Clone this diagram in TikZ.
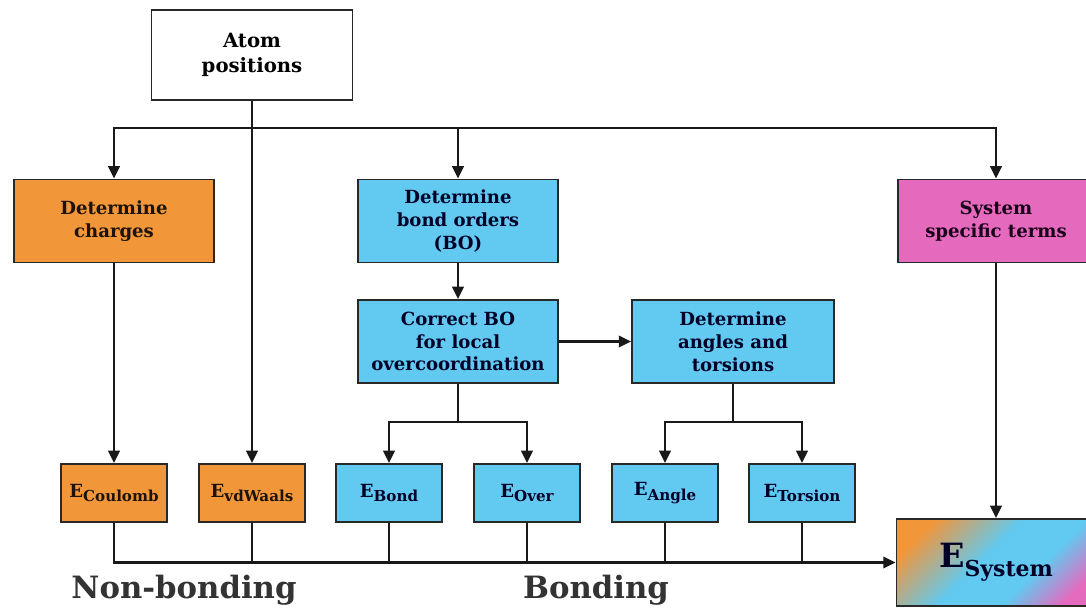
\documentclass[tikz,border=0pt]{standalone}
\usepackage{fontspec}
\setmainfont{DejaVu Serif}
\usepackage{tikz}
\usetikzlibrary{arrows.meta}

\definecolor{chargeorange}{RGB}{242,150,58}
\definecolor{bondblue}{RGB}{98,201,240}
\definecolor{termpink}{RGB}{229,106,190}
\definecolor{boxline}{RGB}{40,40,40}

\pgfdeclarehorizontalshading{esystem}{100bp}{color(0bp)=(chargeorange); color(24bp)=(chargeorange); color(46bp)=(bondblue); color(62bp)=(bondblue); color(77bp)=(termpink); color(100bp)=(termpink)}

\newcommand{\Eterm}[1]{E\raisebox{-0.5ex}{\fontsize{8.6}{10}\selectfont #1}}

\begin{document}
\begin{tikzpicture}[x=0.02cm, y=-0.02cm,
    >={Triangle[length=7pt, width=6.5pt]},
    box/.style={draw=boxline, line width=1.1pt, align=center, inner sep=2pt,
      font=\bfseries\fontsize{10.3}{13}\selectfont},
    bigbox/.style={box, minimum width=4cm, minimum height=1.66cm},
    ebox/.style={box, minimum width=2.12cm, minimum height=1.16cm},
    flow/.style={->, line width=1.5pt, draw=black!90},
    link/.style={line width=1.5pt, draw=black!90}]

    \useasboundingbox (0,0) rectangle (1086,608);
    \clip (0,0) rectangle (1086,608);

    % input and the three branches
    \node[bigbox, fill=white, minimum width=4.02cm, minimum height=1.8cm,
      font=\bfseries\fontsize{11.2}{14}\selectfont] (atoms) at (252,55) {Atom\\positions};
    \node[bigbox, fill=chargeorange, text=black!85!brown] (charges) at (114,221) {Determine\\charges};
    \node[bigbox, fill=bondblue, text=black!85!blue] (bondorder) at (458,221) {Determine\\bond orders\\(BO)};
    \node[bigbox, fill=termpink, text=black!80!violet, minimum width=3.92cm] (specific) at (996,221) {System\\specific terms};

    \node[bigbox, fill=bondblue, text=black!85!blue] (correctbo) at (458,341.5) {Correct BO\\for local\\overcoordination};
    \node[bigbox, fill=bondblue, text=black!85!blue, minimum width=4.04cm] (angles) at (733,341.5) {Determine\\angles and\\torsions};

    % energy terms
    \node[ebox, fill=chargeorange, text=black!85!brown] (ecoul) at (114,493) {\Eterm{Coulomb}};
    \node[ebox, fill=chargeorange, text=black!85!brown] (evdw) at (252,493) {\Eterm{vdWaals}};
    \node[ebox, fill=bondblue, text=black!85!blue] (ebond) at (389,493) {\Eterm{Bond}};
    \node[ebox, fill=bondblue, text=black!85!blue] (eover) at (527,493) {\Eterm{Over}};
    \node[ebox, fill=bondblue, text=black!85!blue] (eangle) at (665,493) {\Eterm{Angle}};
    \node[ebox, fill=bondblue, text=black!85!blue] (etors) at (802,493) {\Eterm{Torsion}};

    \node[box, shading=esystem, shading angle=-45, minimum width=3.98cm, minimum height=1.74cm,
      text=black!85!blue] (esys) at (996,562.5)
      {\fontsize{19}{20}\selectfont E\raisebox{-0.55ex}{\fontsize{12.5}{14}\selectfont System}};

    \coordinate (split) at (252,128);
    \coordinate (bosplit) at (458,422);
    \coordinate (angsplit) at (733,422);

    \draw[flow] (atoms) -- (evdw);
    \draw[flow] (split) -| (charges);
    \draw[flow] (split) -| (bondorder);
    \draw[flow] (split) -| (specific);

    \draw[flow] (charges) -- (ecoul);
    \draw[flow] (bondorder) -- (correctbo);
    \draw[flow] (correctbo) -- (angles);
    \draw[flow] (specific) -- (esys);

    \draw[link] (correctbo) -- (bosplit);
    \draw[flow] (bosplit) -| (ebond);
    \draw[flow] (bosplit) -| (eover);
    \draw[link] (angles) -- (angsplit);
    \draw[flow] (angsplit) -| (eangle);
    \draw[flow] (angsplit) -| (etors);

    % everything is summed into the total energy
    \draw[flow] (ecoul) |- (esys);
    \foreach \term in {evdw, ebond, eover, eangle, etors}
        \draw[link] (\term) -- (\term |- esys.west);

    \node[font=\bfseries\fontsize{17.5}{20}\selectfont, text=black!80] (nonbond) at (184,590) {Non-bonding};
    \node[font=\bfseries\fontsize{17.5}{20}\selectfont, text=black!80] (bond) at (596,590) {Bonding};
\end{tikzpicture}
\end{document}
